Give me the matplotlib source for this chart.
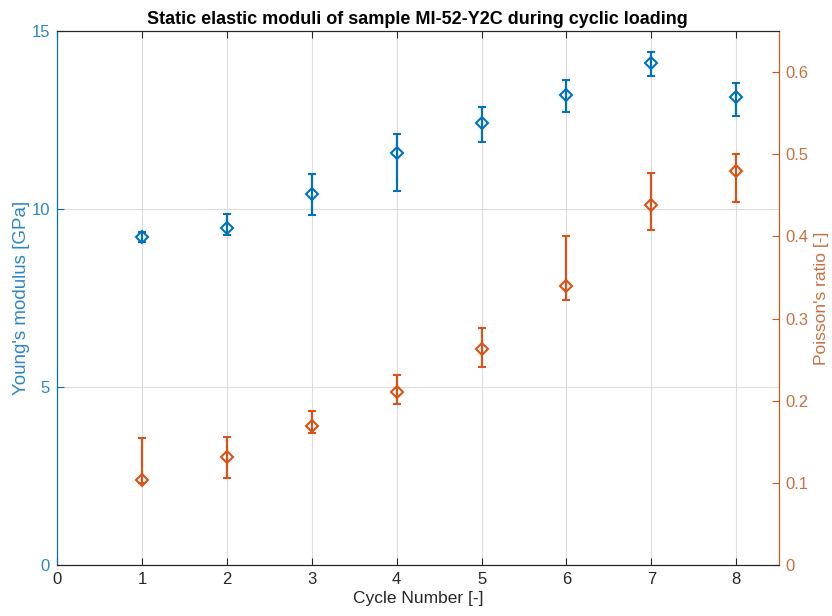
import numpy as np
import matplotlib.pyplot as plt

plt.rcParams['font.family'] = ['Liberation Sans', 'DejaVu Sans']

cycles = [1, 2, 3, 4, 5, 6, 7, 8]

# Young's modulus [GPa]: mean, lower and upper bound of error bar
E_mean = [9.20, 9.47, 10.43, 11.57, 12.41, 13.19, 14.10, 13.15]
E_low = [9.08, 9.26, 9.82, 10.51, 11.87, 12.72, 13.73, 12.60]
E_high = [9.34, 9.86, 10.98, 12.10, 12.87, 13.63, 14.40, 13.53]

# Poisson's ratio [-]
nu_mean = [0.104, 0.131, 0.169, 0.211, 0.263, 0.339, 0.438, 0.480]
nu_low = [0.100, 0.106, 0.161, 0.196, 0.241, 0.322, 0.408, 0.442]
nu_high = [0.154, 0.156, 0.1875, 0.2315, 0.289, 0.401, 0.477, 0.500]

blue = '#0072BD'
orange = '#D95319'
blue_txt = '#2F86C2'
orange_txt = '#C8703F'

fig = plt.figure(figsize=(8.32, 6.16), dpi=100)
ax = fig.add_axes([0.0685, 0.0828, 0.8675, 0.867])
ax2 = ax.twinx()

E_err = [np.array(E_mean) - np.array(E_low), np.array(E_high) - np.array(E_mean)]
nu_err = [np.array(nu_mean) - np.array(nu_low), np.array(nu_high) - np.array(nu_mean)]

ax.errorbar(cycles, E_mean, yerr=E_err, fmt='D', color=blue, mfc='none',
            mew=1.5, ms=6, elinewidth=1.6, capsize=3, capthick=1.6)
ax2.errorbar(cycles, nu_mean, yerr=nu_err, fmt='D', color=orange, mfc='none',
             mew=1.5, ms=6, elinewidth=1.6, capsize=3, capthick=1.6)

ax.set_xlim(0, 8.5)
ax.set_ylim(0, 15)
ax2.set_ylim(0, 0.65)
ax.set_xticks(range(0, 9))
ax.set_yticks([0, 5, 10, 15])
ax2.set_yticks([0, 0.1, 0.2, 0.3, 0.4, 0.5, 0.6])
ax2.set_yticklabels(['0', '0.1', '0.2', '0.3', '0.4', '0.5', '0.6'])

ax.grid(True, color='#dcdcdc', linewidth=0.8)
ax.set_axisbelow(True)

ax.tick_params(axis='x', direction='in', top=True, length=5, colors='#262626',
               labelsize=12, pad=5)
ax.tick_params(axis='y', direction='in', length=5, color=blue, labelcolor=blue_txt,
               labelsize=12, pad=5)
ax2.tick_params(axis='y', direction='in', length=5, color=orange, labelcolor=orange_txt,
                labelsize=12, pad=5)

for s in ['top', 'bottom']:
    ax.spines[s].set_color('#262626')
    ax2.spines[s].set_color('#262626')
ax.spines['left'].set_color(blue)
ax2.spines['left'].set_color(blue)
ax2.spines['right'].set_color(orange)
ax.spines['right'].set_color(orange)

ax.set_xlabel('Cycle Number [-]', fontsize=12.5, color='#262626', labelpad=3)
ax.set_ylabel("Young's modulus [GPa]", fontsize=13.5, color=blue_txt)
ax2.set_ylabel("Poisson's ratio [-]", fontsize=12.5, color=orange_txt)
ax.yaxis.set_label_coords(-0.038, 0.5)
ax2.yaxis.set_label_coords(1.049, 0.5)
ax.set_title('Static elastic moduli of sample MI-52-Y2C during cyclic loading',
             fontsize=13, fontweight='bold', pad=5)

fig.savefig('out.png', dpi=100)
